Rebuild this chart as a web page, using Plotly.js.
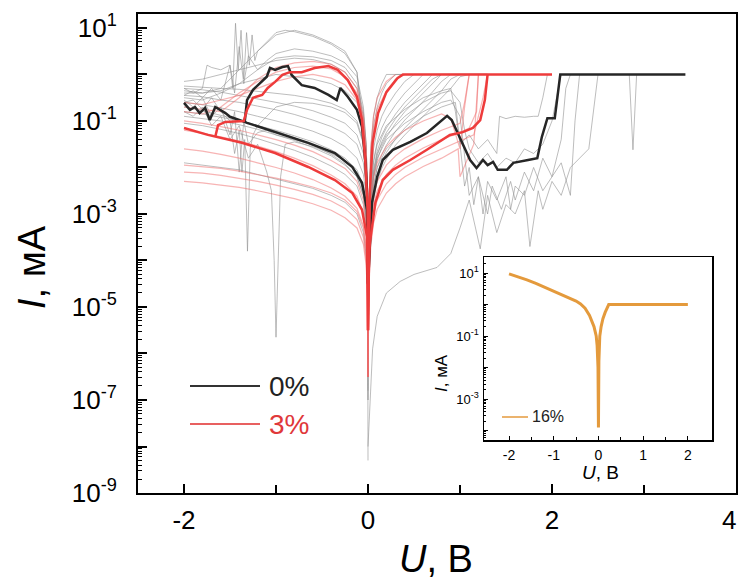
<!DOCTYPE html>
<html><head><meta charset="utf-8">
<script src="https://cdn.plot.ly/plotly-3.0.1.min.js"></script>
<style>html,body{margin:0;padding:0;background:#fff;overflow:hidden}#chart{width:738px;height:584px}</style>
</head><body><div id="chart"></div>
<script>
const uNeg = [-2,-1.8,-1.6,-1.4,-1.2,-1.0,-0.8,-0.6,-0.4,-0.25,-0.12,-0.05,-0.02,-0.005,0];
const uPos = [0,0.01,0.03,0.06,0.1,0.15,0.2,0.3,0.4,0.5,0.6,0.7,0.8,0.9,1.0,1.1,1.2,1.3];

const grayNegLog = [
 [-0.35,-0.4,-0.3,0.1,0.5,0.85,0.95,0.85,0.68,0.5,0.05,-1.2,-2.0,-3.0,-5.0],
 [-0.5,-0.55,-0.4,-0.2,0.1,0.35,0.4,0.38,0.3,0.15,-0.2,-0.8,-1.5,-2.5,-5.5],
 [-0.3,-0.33,-0.38,-0.45,-0.52,-0.6,-0.68,-0.78,-0.92,-1.05,-1.3,-1.7,-2.2,-3.0,-5.5],
 [-0.45,-0.48,-0.55,-0.6,-0.68,-0.76,-0.86,-0.98,-1.12,-1.27,-1.5,-1.9,-2.4,-3.1,-6.0],
 [-0.6,-0.65,-0.72,-0.8,-0.9,-1.0,-1.1,-1.22,-1.38,-1.55,-1.8,-2.15,-2.6,-3.3,-6.5],
 [-0.8,-0.85,-0.92,-1.0,-1.1,-1.2,-1.32,-1.45,-1.62,-1.8,-2.05,-2.4,-2.9,-3.6,-7.0],
 [-0.25,-0.28,-0.3,-0.32,-0.36,-0.4,-0.45,-0.52,-0.62,-0.75,-1.0,-1.45,-2.0,-2.8,-6.0],
 [-0.4,-0.4,-0.35,-0.2,-0.1,0.0,-0.05,-0.1,-0.2,-0.35,-0.6,-1.1,-1.8,-2.7,-8.3],
 [-0.9,-0.95,-1.0,-1.08,-1.18,-1.3,-1.42,-1.57,-1.75,-1.95,-2.2,-2.6,-3.1,-3.8,-6.0],
 [-1.9,-1.95,-2.0,-2.05,-2.15,-2.25,-2.35,-2.45,-2.6,-2.75,-3.0,-3.4,-3.9,-4.5,-6.5],
 [-0.7,-0.78,-0.88,-0.98,-1.1,-1.22,-1.36,-1.52,-1.72,-1.92,-2.2,-2.6,-3.1,-3.8,-6.2],
 [-1.05,-1.1,-1.18,-1.27,-1.38,-1.5,-1.63,-1.78,-1.97,-2.15,-2.4,-2.8,-3.3,-4.0,-6.8],
 [-0.15,-0.1,0.0,0.1,0.2,0.3,0.35,0.32,0.22,0.05,-0.3,-0.9,-1.6,-2.6,-6.0]
];

const grayNoisyNegU = [
 [-2,-1.9,-1.8,-1.7,-1.6,-1.55,-1.5,-1.47,-1.44,-1.41,-1.38,-1.35,-1.32,-1.29,-1.26,-1.23,-1.2,-1.1,-1.0,-0.9,-0.8,-0.6,-0.4,-0.25,-0.12,-0.05,-0.02,-0.005,0],
 [-2,-1.9,-1.8,-1.7,-1.6,-1.5,-1.4,-1.3,-1.2,-1.1,-1.05,-1.02,-1.0,-0.98,-0.95,-0.9,-0.8,-0.6,-0.4,-0.25,-0.12,-0.05,-0.02,-0.005,0],
 [-2,-1.9,-1.8,-1.7,-1.6,-1.5,-1.45,-1.4,-1.37,-1.34,-1.31,-1.28,-1.25,-1.2,-1.1,-1.0,-0.8,-0.6,-0.4,-0.25,-0.12,-0.05,-0.02,-0.005,0],
 [-2,-1.9,-1.8,-1.75,-1.7,-1.6,-1.5,-1.45,-1.4,-1.35,-1.3,-1.2,-1.1,-1.0,-0.8,-0.6,-0.4,-0.25,-0.12,-0.05,-0.02,-0.005,0],
 [-2,-1.9,-1.8,-1.7,-1.6,-1.5,-1.45,-1.4,-1.35,-1.3,-1.2,-1.1,-1.0,-0.8,-0.6,-0.4,-0.25,-0.12,-0.05,-0.02,-0.005,0]
];
const grayNoisyNegLog = [
 [-0.45,-0.35,-0.5,-0.3,-0.55,-0.2,0.2,-0.3,1.1,0.1,0.95,-0.1,0.9,0.2,0.85,0.3,0.5,0.7,0.9,0.95,0.92,0.82,0.65,0.45,0.05,-1.1,-2.0,-3.0,-5.5],
 [-0.8,-0.9,-0.7,-1.1,-0.9,-1.4,-1.1,-1.8,-1.5,-2.1,-2.5,-4.0,-5.65,-4.2,-2.2,-1.5,-1.45,-1.55,-1.7,-1.85,-2.1,-2.5,-3.0,-3.8,-6.0],
 [-0.6,-0.55,-0.75,-0.5,-0.8,-1.0,-1.7,-1.2,-2.1,-1.4,-3.8,-1.6,-1.3,-1.1,-0.9,-0.7,-0.6,-0.62,-0.7,-0.82,-1.05,-1.5,-2.1,-3.0,-6.0],
 [-0.3,-0.4,-0.3,0.2,0.15,0.1,0.2,-0.4,0.6,-0.2,0.4,0.1,0.3,0.45,0.55,0.5,0.4,0.25,-0.05,-0.7,-1.5,-2.6,-6.0],
 [-0.55,-0.7,-0.5,-0.9,-0.7,-1.3,-0.8,-2.1,-1.0,-1.5,-1.25,-1.2,-1.3,-1.4,-1.52,-1.68,-1.85,-2.1,-2.5,-3.0,-3.8,-6.5]
];

const grayPosLog = [
 [-5.0,-3.0,-1.6,-0.9,-0.5,-0.2,0,0,0,0,0,0,0,0,0,0,0,0],
 [-5.5,-3.3,-2.0,-1.3,-0.9,-0.6,-0.4,-0.1,0,0,0,0,0,0,0,0,0,0],
 [-5.5,-3.5,-2.3,-1.6,-1.2,-0.9,-0.7,-0.4,-0.15,0,0,0,0,0,0,0,0,0],
 [-6,-3.7,-2.5,-1.85,-1.45,-1.15,-0.95,-0.65,-0.4,-0.2,0,0,0,0,0,0,0,0],
 [-6,-3.8,-2.7,-2.05,-1.65,-1.35,-1.15,-0.85,-0.6,-0.4,-0.2,0,0,0,0,0,0,0],
 [-6,-4,-2.9,-2.25,-1.85,-1.55,-1.35,-1.05,-0.8,-0.6,-0.4,-0.2,0,0,0,0,0,0],
 [-6.5,-4.1,-3.0,-2.4,-2.0,-1.72,-1.52,-1.22,-0.98,-0.78,-0.58,-0.38,-0.15,0,0,0,0,0],
 [-6.5,-4.2,-3.1,-2.55,-2.15,-1.88,-1.68,-1.38,-1.15,-0.95,-0.75,-0.55,-0.35,-0.1,0,0,0,0],
 [-7,-4.3,-3.2,-2.7,-2.3,-2.02,-1.82,-1.52,-1.3,-1.1,-0.92,-0.72,-0.52,-0.3,-0.05,0,0,0],
 [-5.2,-3.2,-1.8,-1.1,-0.7,-0.4,-0.2,0,0,0,0,0,0,0,0,0,0,0],
 [-6,-3.9,-2.8,-2.15,-1.75,-1.45,-1.25,-0.95,-0.7,-0.5,-0.3,-0.1,0,0,0,0,0,0]
];

const grayNoisyPosU = [
 [0,0.01,0.03,0.06,0.1,0.2,0.4,0.6,0.8,0.9,1.0,1.05,1.1,1.2,1.3,1.4,1.5,1.6,1.7,1.8,1.9,2.0,2.05,2.1],
 [0,0.01,0.03,0.06,0.1,0.2,0.4,0.6,0.8,0.95,1.0,1.05,1.1,1.15,1.2,1.25,1.3,1.4,1.5,1.55,1.6,1.7,1.8,1.9,2.0,2.1,2.2,2.25,2.3],
 [0,0.03,0.05,0.1,0.2,0.35,0.5,0.75,0.9,1.0,1.1,1.22,1.3,1.4,1.5,1.6,1.7,1.76,1.85,1.9,2.0,2.1,2.2,2.4,2.45,2.5],
 [0,0.01,0.03,0.06,0.1,0.2,0.4,0.6,0.8,0.9,0.95,1.0,1.1,1.2,1.3,1.4,1.43,1.5,1.6,1.7,1.8,1.85,1.9,1.95],
 [0,0.01,0.03,0.06,0.1,0.2,0.4,0.6,0.8,0.9,1.0,1.05,1.1,1.2,1.3,1.35,1.45,1.55,1.6,1.7,1.8,1.9,2.0,2.1,2.15,2.2],
 [2.7,2.84,2.88,2.92,3.0]
];
const grayNoisyPosLog = [
 [-6,-3.8,-2.7,-2.1,-1.7,-1.3,-0.9,-0.6,-0.4,-0.35,-0.6,-1.2,-1.6,-1.9,-1.7,-2.0,-1.8,-1.9,-1.6,-1.7,-1.5,-1.0,-0.5,0],
 [-6.5,-4.0,-3.0,-2.4,-2.0,-1.6,-1.2,-0.9,-0.7,-0.6,-1.5,-2.4,-2.0,-2.8,-2.2,-3.0,-2.3,-2.7,-2.2,-2.9,-2.4,-2.6,-2.0,-2.5,-2.2,-1.9,-2.6,-1.0,0],
 [-8,-6.5,-5.9,-5.2,-4.7,-4.45,-4.3,-4.15,-3.85,-3.3,-2.7,-3.75,-2.6,-3.4,-2.8,-3.0,-2.5,-3.7,-2.5,-2.9,-2.3,-2.6,-2.0,-1.6,-0.8,0],
 [-6,-3.6,-2.5,-1.9,-1.5,-1.1,-0.75,-0.5,-0.35,-0.3,-0.8,-1.5,-1.3,-1.6,-1.4,-1.7,-0.9,-0.95,-0.9,-0.92,-0.9,-0.9,-0.5,0],
 [-6.5,-3.9,-2.8,-2.2,-1.8,-1.4,-1.05,-0.8,-0.6,-0.55,-0.9,-1.8,-2.6,-2.2,-3.0,-2.4,-2.9,-2.3,-2.7,-2.1,-2.5,-1.8,-2.2,-1.4,-0.3,0],
 [0,0,-1.62,0,0]
];

const redNegLog = [
 [-0.7,-0.75,-0.8,-0.5,-0.1,0.15,0.25,0.28,0.22,0.05,-0.3,-0.9,-1.6,-2.6,-6.0],
 [-0.8,-0.85,-0.7,-0.4,-0.15,0.05,0.15,0.18,0.12,-0.05,-0.4,-1.0,-1.7,-2.7,-6.0],
 [-0.6,-0.65,-0.55,-0.45,-0.3,-0.15,-0.05,0.0,-0.08,-0.22,-0.55,-1.1,-1.8,-2.8,-6.2],
 [-1.0,-1.05,-1.12,-1.2,-1.3,-1.4,-1.52,-1.66,-1.85,-2.02,-2.3,-2.7,-3.2,-3.9,-6.5],
 [-1.2,-1.26,-1.34,-1.43,-1.54,-1.66,-1.8,-1.96,-2.16,-2.35,-2.62,-3.0,-3.5,-4.2,-6.5],
 [-1.95,-1.98,-2.02,-2.08,-2.15,-2.23,-2.32,-2.42,-2.55,-2.7,-2.95,-3.3,-3.8,-4.5,-6.5],
 [-2.1,-2.12,-2.17,-2.23,-2.3,-2.38,-2.47,-2.58,-2.72,-2.88,-3.12,-3.5,-4.0,-4.7,-6.5],
 [-2.3,-2.33,-2.38,-2.43,-2.5,-2.58,-2.67,-2.78,-2.92,-3.08,-3.3,-3.65,-4.1,-4.8,-6.5],
 [-1.6,-1.65,-1.72,-1.8,-1.9,-2.0,-2.12,-2.26,-2.44,-2.62,-2.88,-3.25,-3.7,-4.4,-6.5]
];

const redPosU = [
 [0,0.01,0.03,0.06,0.1,0.2,0.3,0.4,0.6,0.8,1.0,1.05,1.1],
 [0,0.01,0.03,0.06,0.1,0.2,0.3,0.4,0.6,0.8,1.0,1.1,1.18,1.2],
 [0,0.01,0.03,0.06,0.1,0.2,0.3,0.4,0.6,0.8,1.0,1.15,1.25,1.3],
 [0,0.01,0.03,0.06,0.1,0.2,0.3,0.4,0.6,0.8,0.98,1.0,1.15,1.2],
 [0,0.01,0.03,0.06,0.1,0.2,0.3],
 [0,0.01,0.03,0.06,0.1,0.2,0.3,0.4],
 [0,0.01,0.03,0.06,0.1,0.2,0.3,0.4,0.6,0.8,0.9,1.0,1.05,1.1]
];
const redPosLog = [
 [-6,-4,-3.1,-2.6,-2.3,-1.95,-1.75,-1.6,-1.38,-1.2,-1.05,-0.6,0],
 [-6,-4.2,-3.3,-2.8,-2.5,-2.15,-1.95,-1.8,-1.58,-1.4,-1.25,-1.15,-0.8,0],
 [-6.5,-4.4,-3.5,-3.0,-2.7,-2.35,-2.15,-2.0,-1.78,-1.6,-1.42,-1.3,-0.5,0],
 [-6.5,-4.6,-3.7,-3.2,-2.9,-2.55,-2.35,-2.2,-1.98,-1.8,-1.6,-2.2,-1.5,0],
 [-5,-2.8,-1.6,-0.9,-0.5,-0.15,0],
 [-5.5,-3,-1.9,-1.2,-0.75,-0.35,-0.1,0],
 [-6,-3.8,-2.8,-2.2,-1.9,-1.55,-1.35,-1.2,-1.0,-0.85,-0.95,-1.6,-0.7,0]
];

// 0% (bold black)
const blackU = [-2,-1.935,-1.88,-1.83,-1.77,-1.72,-1.66,-1.61,-1.55,-1.5,-1.45,-1.34,-1.315,-1.01,-0.65,-0.36,-0.17,-0.065,-0.01,0,
  0.043,0.1,0.16,0.27,0.46,0.64,0.78,0.86,0.91,0.97,1.03,1.11,1.18,1.25,1.3,1.36,1.41,1.51,1.58,1.65,1.74,1.84,1.89,1.95,2.03,2.09,3.45];
const blackLog = [-0.61,-0.76,-0.7,-0.83,-0.72,-0.98,-0.7,-0.76,-0.83,-0.91,-0.94,-1.02,-1.04,-1.24,-1.47,-1.69,-1.99,-2.33,-2.91,-4.5,
  -2.76,-2.2,-1.84,-1.62,-1.45,-1.26,-1.02,-0.89,-0.98,-1.24,-1.47,-1.84,-2.01,-1.84,-1.95,-1.88,-2.05,-2.05,-1.9,-1.88,-1.84,-1.8,-1.34,-0.94,-0.94,0,0];
const blackUpU = [-1.34,-1.315,-1.25,-1.17,-1.1,-1.065,-1.01,-0.93,-0.87,-0.83,-0.72,-0.58,-0.43,-0.34,-0.3,-0.22,-0.12,-0.065,-0.03,-0.01,0];
const blackUpLog = [-1.02,-0.55,-0.33,-0.18,-0.05,0.14,0.1,0.16,0.18,-0.01,-0.23,-0.29,-0.44,-0.55,-0.29,-0.48,-0.76,-1.13,-1.84,-2.55,-4.5];

// 3% (bold red)
const redLowU = [-2,-1.74,-1.37,-1.01,-0.65,-0.36,-0.17,-0.065,-0.01,0,0.01,0.02,0.08,0.16,0.27,0.46,0.64,0.78,0.89,1.03,1.14,1.22,1.27,1.3];
const redLowLog = [-1.15,-1.3,-1.47,-1.69,-1.99,-2.27,-2.55,-2.91,-3.49,-5.5,-4.0,-3.62,-2.76,-2.27,-2.05,-1.84,-1.62,-1.45,-1.3,-1.24,-1.15,-0.98,-0.55,0];
const redUpU = [-1.66,-1.63,-1.55,-1.35,-1.315,-1.25,-1.15,-1.09,-1.01,-0.93,-0.85,-0.72,-0.58,-0.43,-0.33,-0.22,-0.12,-0.065,-0.03,-0.005,0,
  0.01,0.02,0.05,0.11,0.2,0.32,0.38,2.0];
const redUpLog = [-1.34,-1.09,-1.02,-1.0,-0.76,-0.5,-0.44,-0.29,-0.16,-0.01,0.05,0.05,0.14,0.18,0.1,-0.12,-0.48,-0.98,-1.84,-2.9,-5.5,
  -4.0,-2.55,-1.47,-0.83,-0.38,-0.08,0,0];

// inset, 16%
const insetU = [-2,-1.8,-1.6,-1.4,-1.2,-1.07,-0.8,-0.6,-0.5,-0.4,-0.3,-0.2,-0.15,-0.1,-0.05,-0.03,-0.01,0,0.01,0.03,0.06,0.1,0.15,0.23,2.0];
const insetLog = [0.97,0.88,0.78,0.67,0.55,0.46,0.3,0.18,0.11,0.02,-0.12,-0.35,-0.5,-0.7,-1.0,-1.3,-2.0,-3.9,-1.8,-1.0,-0.7,-0.45,-0.25,0,0];

const xTickVals = [-2,0,2,4], xTickText = ['-2','0','2','4'];
const yTickText = ['10<sup>1</sup>','','10<sup>-1</sup>','','10<sup>-3</sup>','','10<sup>-5</sup>','','10<sup>-7</sup>','','10<sup>-9</sup>'];
const yTickExp = [1,0,-1,-2,-3,-4,-5,-6,-7,-8,-9];
const insetXTicks = [-2,-1,0,1,2], insetXText = ['-2','-1','0','1','2'];
const insetYExp = [1,0,-1,-2,-3,-4];
const insetYText = ['10<sup>1</sup>','','10<sup>-1</sup>','','10<sup>-3</sup>',''];
const legendNames = ['0%','3%','16%'];

const toI = a => a.map(v => Math.pow(10, v));
const GRAY = 'rgba(145,145,145,0.6)', PINK = 'rgba(240,105,105,0.5)';
const BLACK = '#262626', RED = '#ee3b3b', ORANGE = '#e49a3c';
const traces = [];
function add(x, yLog, color, width, ax) {
  traces.push({x: x, y: toI(yLog), type: 'scatter', mode: 'lines',
    line: {color: color, width: width}, xaxis: ax ? 'x2' : 'x', yaxis: ax ? 'y2' : 'y',
    hoverinfo: 'skip', showlegend: false});
}
grayNegLog.forEach(a => add(uNeg, a, GRAY, 1));
grayNoisyNegLog.forEach((a, i) => add(grayNoisyNegU[i], a, GRAY, 1));
grayPosLog.forEach(a => add(uPos, a, GRAY, 1));
grayNoisyPosLog.forEach((a, i) => add(grayNoisyPosU[i], a, GRAY, 1));
redNegLog.forEach(a => add(uNeg, a, PINK, 1.2));
redPosLog.forEach((a, i) => add(redPosU[i], a, PINK, 1.2));
add(blackU, blackLog, BLACK, 2.5);
add(blackUpU, blackUpLog, BLACK, 2.5);
add(redLowU, redLowLog, RED, 2.5);
add(redUpU, redUpLog, RED, 2.5);
add(insetU, insetLog, ORANGE, 3, true);

const minorY = [], minorYin = [];
for (let e = -9; e <= 1; e++) for (let m = 2; m <= 9; m++) { minorY.push(m * Math.pow(10, e)); if (e >= -5) minorYin.push(m * Math.pow(10, e)); }

const FONT = 'Liberation Sans, Arial, sans-serif';
// pixel helpers for paper coordinates (plot area 138..736 x 14..493)
const px = x => (x - 138) / 598, py = y => (493 - y) / 479;

const layout = {
  width: 738, height: 584, margin: {l: 138, r: 2, t: 14, b: 91},
  paper_bgcolor: '#fff', plot_bgcolor: '#fff', showlegend: false,
  font: {family: FONT, color: '#000'},
  xaxis: {range: [-2.5, 4], tickmode: 'array', tickvals: xTickVals, ticktext: xTickText,
    ticks: 'inside', ticklen: 9, tickwidth: 2, tickcolor: '#000', showline: true, linewidth: 2, linecolor: '#000',
    mirror: true, showgrid: false, zeroline: false, tickfont: {size: 26, family: FONT}, ticklabelstandoff: 3,
    minor: {tickmode: 'array', tickvals: [-1, 1, 3], ticks: 'inside', ticklen: 8, tickwidth: 2, tickcolor: '#000', showgrid: false}},
  yaxis: {type: 'log', range: [-9, 1.3], tickmode: 'array', tickvals: toI(yTickExp), ticktext: yTickText,
    ticks: 'inside', ticklen: 9, tickwidth: 2, tickcolor: '#000', showline: true, linewidth: 2, linecolor: '#000',
    mirror: true, showgrid: false, zeroline: false, tickfont: {size: 26, family: FONT}, ticklabelstandoff: 14,
    minor: {tickmode: 'array', tickvals: minorY, ticks: 'inside', ticklen: 4, tickwidth: 1, tickcolor: '#000', showgrid: false}},
  xaxis2: {domain: [px(484), px(712)], anchor: 'y2', range: [-2.56, 2.54], tickmode: 'array', tickvals: insetXTicks, ticktext: insetXText,
    ticks: 'inside', ticklen: 4, tickwidth: 1, tickcolor: '#000', showline: true, linewidth: 1.5, linecolor: '#000', mirror: true,
    showgrid: false, zeroline: false, tickfont: {size: 14, family: FONT}, ticklabelstandoff: 2,
    minor: {tickmode: 'array', tickvals: [-1.5, -0.5, 0.5, 1.5], ticks: 'inside', ticklen: 3, tickwidth: 1, tickcolor: '#000', showgrid: false}},
  yaxis2: {domain: [py(440), py(257)], anchor: 'x2', type: 'log', range: [-4.3, 1.508], tickmode: 'array',
    tickvals: toI(insetYExp), ticktext: insetYText, ticks: 'inside', ticklen: 4, tickwidth: 1, tickcolor: '#000',
    showline: true, linewidth: 1.5, linecolor: '#000', mirror: true, showgrid: false, zeroline: false,
    tickfont: {size: 13, family: FONT}, ticklabelstandoff: 1,
    minor: {tickmode: 'array', tickvals: minorYin, ticks: 'inside', ticklen: 2, tickwidth: 1, tickcolor: '#000', showgrid: false}},
  shapes: [
    {type: 'line', xref: 'paper', yref: 'paper', x0: px(190), x1: px(260), y0: py(386), y1: py(386), line: {color: '#333', width: 2}},
    {type: 'line', xref: 'paper', yref: 'paper', x0: px(190), x1: px(260), y0: py(424), y1: py(424), line: {color: '#e86060', width: 2}},
    {type: 'line', xref: 'paper', yref: 'paper', x0: px(502), x1: px(528), y0: py(417), y1: py(417), line: {color: ORANGE, width: 1.5}}
  ],
  annotations: [
    {xref: 'paper', yref: 'paper', x: px(267), y: py(386), xanchor: 'left', yanchor: 'middle', showarrow: false,
      text: legendNames[0], font: {size: 28, color: '#222', family: FONT}},
    {xref: 'paper', yref: 'paper', x: px(267), y: py(424), xanchor: 'left', yanchor: 'middle', showarrow: false,
      text: legendNames[1], font: {size: 28, color: '#e0383a', family: FONT}},
    {xref: 'paper', yref: 'paper', x: px(530), y: py(417), xanchor: 'left', yanchor: 'middle', showarrow: false,
      text: legendNames[2], font: {size: 16, color: '#222', family: FONT}},
    {xref: 'paper', yref: 'paper', x: px(738), y: py(520), xanchor: 'right', yanchor: 'middle', showarrow: false,
      text: xTickText[3], font: {size: 26, color: '#000', family: FONT}},
    {xref: 'paper', yref: 'paper', x: px(436), y: py(559), xanchor: 'center', yanchor: 'middle', showarrow: false,
      text: '<i>U</i>, В', font: {size: 38, color: '#000', family: FONT}},
    {xref: 'paper', yref: 'paper', x: px(32), y: py(267), xanchor: 'center', yanchor: 'middle', showarrow: false, textangle: -90,
      text: '<i>I</i>, мА', font: {size: 38, color: '#000', family: FONT}},
    {xref: 'paper', yref: 'paper', x: px(600), y: py(472), xanchor: 'center', yanchor: 'middle', showarrow: false,
      text: '<i>U</i>, В', font: {size: 19, color: '#000', family: FONT}},
    {xref: 'paper', yref: 'paper', x: px(441), y: py(373), xanchor: 'center', yanchor: 'middle', showarrow: false, textangle: -90,
      text: '<i>I</i>, мА', font: {size: 17, color: '#000', family: FONT}}
  ]
};
Plotly.newPlot('chart', traces, layout, {displayModeBar: false, staticPlot: true});
</script></body></html>
